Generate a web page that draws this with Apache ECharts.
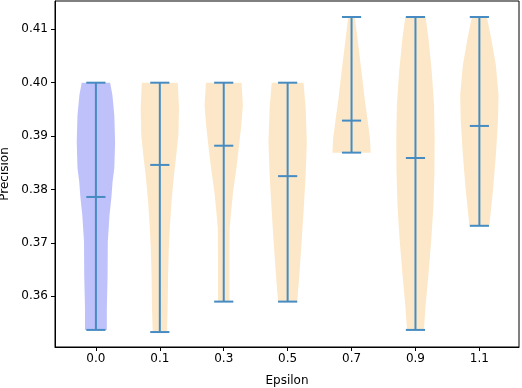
<!DOCTYPE html>
<html>
<head>
<meta charset="utf-8">
<script src="https://cdn.jsdelivr.net/npm/echarts@6/dist/echarts.min.js"></script>
<style>
  html, body { margin: 0; padding: 0; background: #fff; }
  #chart { width: 522px; height: 388px; }
</style>
</head>
<body>
<div id="chart"></div>
<script>
// epsilon groups on the x axis
const categories = ['0.0', '0.1', '0.3', '0.5', '0.7', '0.9', '1.1'];
const yTicks = [0.36, 0.37, 0.38, 0.39, 0.40, 0.41];

// whisker ends and middle line of every violin
const minVals = [0.3537, 0.3533, 0.3590, 0.3590, 0.3869, 0.3537, 0.3732];
const maxVals = [0.4000, 0.4000, 0.4000, 0.4000, 0.4123, 0.4123, 0.4123];
const medianVals = [0.3786, 0.3846, 0.3882, 0.3825, 0.3929, 0.3859, 0.3919];

// kernel density profile (precision level -> relative width)
const densityLevels = [
  [0.4000, 0.3977, 0.3939, 0.3889, 0.3840, 0.3815, 0.3786, 0.3752, 0.3702, 0.3640, 0.3577, 0.3537],
  [0.4000, 0.3952, 0.3902, 0.3858, 0.3827, 0.3777, 0.3733, 0.3690, 0.3640, 0.3577, 0.3533],
  [0.4000, 0.3958, 0.3921, 0.3882, 0.3840, 0.3796, 0.3752, 0.3727, 0.3671, 0.3590],
  [0.4000, 0.3952, 0.3889, 0.3827, 0.3765, 0.3702, 0.3640, 0.3590],
  [0.4123, 0.4083, 0.4021, 0.3971, 0.3929, 0.3896, 0.3869],
  [0.4123, 0.4083, 0.4021, 0.3958, 0.3896, 0.3833, 0.3771, 0.3708, 0.3646, 0.3583, 0.3537],
  [0.4123, 0.4083, 0.4033, 0.3977, 0.3927, 0.3865, 0.3802, 0.3732]
];
const densityWidths = [
  [0.74, 0.86, 0.96, 1.00, 0.96, 0.87, 0.81, 0.71, 0.62, 0.61, 0.57, 0.57],
  [0.94, 1.00, 0.97, 0.84, 0.74, 0.61, 0.53, 0.47, 0.43, 0.41, 0.37],
  [0.93, 1.00, 0.92, 0.80, 0.66, 0.49, 0.37, 0.31, 0.30, 0.30],
  [0.83, 0.94, 1.00, 0.94, 0.84, 0.73, 0.61, 0.50],
  [0.17, 0.31, 0.52, 0.68, 0.84, 0.96, 1.00],
  [0.53, 0.68, 0.85, 0.97, 1.00, 0.99, 0.94, 0.83, 0.69, 0.53, 0.44],
  [0.39, 0.62, 0.86, 1.00, 0.97, 0.86, 0.72, 0.52]
];

const violinColors = ['#bfc1fa', '#fce8c8', '#fce8c8', '#fce8c8', '#fce8c8', '#fce8c8', '#fce8c8'];
const lineColor = '#468cc2';
const halfWidth = 0.3;   // x units, widest part of each violin
const capHalf = 0.15;    // x units
const font = 'DejaVu Sans';

const chart = echarts.init(document.getElementById('chart'));

function renderViolin(params, api) {
  const i = params.dataIndex;
  const lv = densityLevels[i];
  const wd = densityWidths[i];
  const pts = [];
  for (let k = 0; k < lv.length; k++) pts.push(api.coord([i - halfWidth * wd[k], lv[k]]));
  for (let k = lv.length - 1; k >= 0; k--) pts.push(api.coord([i + halfWidth * wd[k], lv[k]]));

  const top = api.coord([i, maxVals[i]]);
  const bot = api.coord([i, minVals[i]]);
  const med = api.coord([i, medianVals[i]]);
  const cl = api.coord([i - capHalf, 0.38])[0];
  const cr = api.coord([i + capHalf, 0.38])[0];
  const ls = { stroke: lineColor, lineWidth: 2 };

  return {
    type: 'group',
    children: [
      { type: 'polygon', shape: { points: pts }, style: { fill: violinColors[i] } },
      { type: 'line', shape: { x1: top[0], y1: top[1], x2: bot[0], y2: bot[1] }, style: ls },
      { type: 'line', shape: { x1: cl, y1: top[1], x2: cr, y2: top[1] }, style: ls },
      { type: 'line', shape: { x1: cl, y1: bot[1], x2: cr, y2: bot[1] }, style: ls },
      { type: 'line', shape: { x1: cl, y1: med[1], x2: cr, y2: med[1] }, style: ls }
    ]
  };
}

const option = {
  animation: false,
  grid: {
    left: 55, right: 3, top: 1, bottom: 41,
    outerBoundsMode: 'none',
    containLabel: false,
    show: true, borderColor: '#000', borderWidth: 1
  },
  xAxis: {
    type: 'value',
    min: -0.64,
    max: 6.62,
    name: 'Epsilon',
    nameLocation: 'middle',
    nameGap: 28,
    nameTextStyle: { fontFamily: font, fontSize: 12, color: '#000' },
    axisLine: { onZero: false, lineStyle: { color: '#000', width: 1 } },
    axisTick: { show: true, length: 4, lineStyle: { color: '#000' }, customValues: categories.map((c, i) => i) },
    axisLabel: {
      fontFamily: font, fontSize: 12, color: '#000', margin: 6,
      customValues: categories.map((c, i) => i),
      formatter: v => categories[Math.round(v)]
    },
    splitLine: { show: false }
  },
  yAxis: {
    type: 'value',
    min: 0.3505,
    max: 0.4153,
    name: 'Precision',
    nameLocation: 'middle',
    nameGap: 39,
    nameTextStyle: { fontFamily: font, fontSize: 12, color: '#000' },
    axisLine: { show: true, onZero: false, lineStyle: { color: '#000', width: 1 } },
    axisTick: { show: true, length: 4, lineStyle: { color: '#000' }, customValues: yTicks },
    axisLabel: {
      fontFamily: font, fontSize: 12, color: '#000', margin: 7,
      customValues: yTicks,
      formatter: v => v.toFixed(2)
    },
    splitLine: { show: false }
  },
  series: [{
    type: 'custom',
    renderItem: renderViolin,
    data: categories.map((c, i) => [i, medianVals[i]]),
    encode: { x: 0, y: 1 }
  }]
};

chart.setOption(option);
</script>
</body>
</html>
